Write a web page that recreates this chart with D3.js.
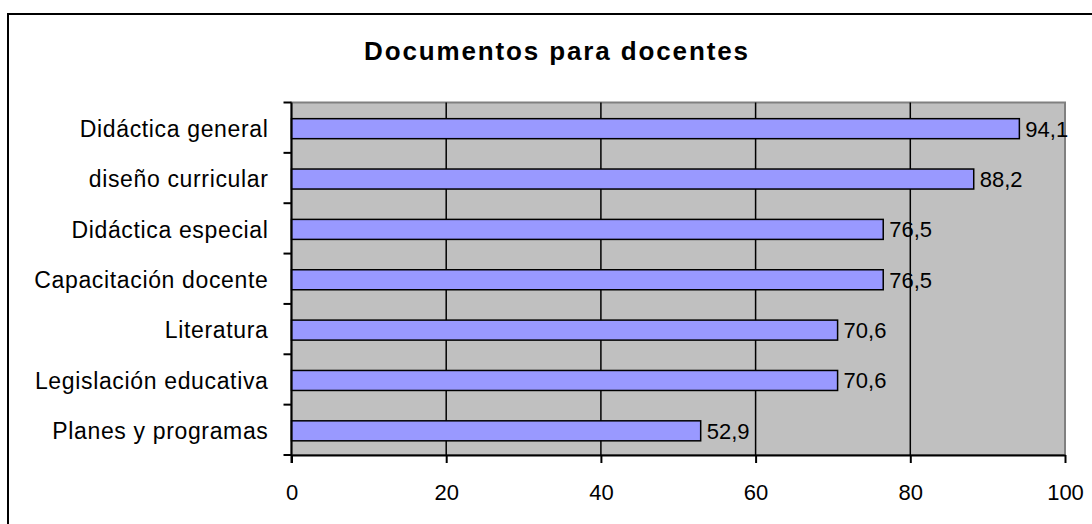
<!DOCTYPE html>
<html>
<head>
<meta charset="utf-8">
<script src="https://cdn.jsdelivr.net/npm/d3@7"></script>
<style>
  html, body { margin: 0; padding: 0; background: #fff; }
  svg { display: block; }
  text { font-family: "Liberation Sans", Arial, sans-serif; fill: #000; }
</style>
</head>
<body>
<svg id="chart" width="1092" height="524"></svg>
<script>
// Survey results: share of documents for teachers (%)
const categories = [
  "Didáctica general",
  "diseño curricular",
  "Didáctica especial",
  "Capacitación docente",
  "Literatura",
  "Legislación educativa",
  "Planes y programas"
];
const values = [94.1, 88.2, 76.5, 76.5, 70.6, 70.6, 52.9];
const xTicks = [0, 20, 40, 60, 80, 100];
const titleText = "Documentos para docentes";

const svg = d3.select("#chart");

// outer frame
svg.append("rect")
  .attr("x", 8).attr("y", 14)
  .attr("width", 1110).attr("height", 600)
  .attr("fill", "none").attr("stroke", "#000").attr("stroke-width", 2);

const plot = { left: 291.5, right: 1065, top: 102.5, bottom: 455 };

const x = d3.scaleLinear().domain([0, 100]).range([plot.left, plot.right]);
const y = d3.scaleBand().domain(categories).range([plot.top, plot.bottom]).paddingInner(0).paddingOuter(0);
const barH = 20;

// plot background
svg.append("rect")
  .attr("x", plot.left).attr("y", plot.top)
  .attr("width", plot.right - plot.left).attr("height", plot.bottom - plot.top)
  .attr("fill", "#C0C0C0").attr("stroke", "#808080").attr("stroke-width", 2);

// vertical gridlines
svg.append("g").selectAll("line")
  .data(xTicks.filter(t => t > 0 && t < 100))
  .join("line")
  .attr("x1", d => x(d)).attr("x2", d => x(d))
  .attr("y1", plot.top).attr("y2", plot.bottom)
  .attr("stroke", "#000").attr("stroke-width", 1.5);

// bars
svg.append("g").selectAll("rect")
  .data(categories)
  .join("rect")
  .attr("x", x(0))
  .attr("y", (d) => y(d) + (y.bandwidth() - barH) / 2 + 1)
  .attr("width", (d, i) => x(values[i]) - x(0))
  .attr("height", barH)
  .attr("fill", "#9999FF")
  .attr("stroke", "#000").attr("stroke-width", 1.5);

// x axis
const xAxis = svg.append("g")
  .attr("transform", `translate(0,${plot.bottom})`)
  .call(d3.axisBottom(x).tickValues(xTicks).tickSize(8).tickPadding(14).tickSizeOuter(0));
xAxis.select(".domain").attr("stroke", "#000").attr("stroke-width", 2);
xAxis.selectAll(".tick line").attr("stroke", "#000").attr("stroke-width", 2);
xAxis.selectAll(".tick text")
  .attr("font-size", 22)
  .attr("font-family", "Liberation Sans, Arial, sans-serif")
  .attr("dy", null).attr("y", 45);

// y axis: line plus ticks on band boundaries
const yAxis = svg.append("g");
yAxis.append("line")
  .attr("x1", plot.left).attr("x2", plot.left)
  .attr("y1", plot.top).attr("y2", plot.bottom + 8)
  .attr("stroke", "#000").attr("stroke-width", 2);
const bounds = categories.map(c => y(c)).concat([plot.bottom]);
yAxis.selectAll("line.tick")
  .data(bounds)
  .join("line")
  .attr("class", "tick")
  .attr("x1", plot.left - 8).attr("x2", plot.left)
  .attr("y1", d => d).attr("y2", d => d)
  .attr("stroke", "#000").attr("stroke-width", 2);

// category labels
svg.append("g").selectAll("text")
  .data(categories)
  .join("text")
  .attr("x", 268.5)
  .attr("y", d => y(d) + y.bandwidth() / 2 + 1)
  .attr("dy", "0.36em")
  .attr("text-anchor", "end")
  .attr("font-size", 23)
  .attr("letter-spacing", 0.65)
  .text(d => d);

// value labels
svg.append("g").selectAll("text")
  .data(categories)
  .join("text")
  .attr("x", (d, i) => x(values[i]) + 6)
  .attr("y", d => y(d) + y.bandwidth() / 2 + 1)
  .attr("dy", "0.36em")
  .attr("font-size", 22)
  .text((d, i) => d3.format(".1f")(values[i]).replace(".", ","));

// title
svg.append("text")
  .attr("x", 364).attr("y", 59.5)
  .attr("font-size", 26)
  .attr("font-weight", "bold")
  .attr("textLength", 384)
  .attr("lengthAdjust", "spacing")
  .text(titleText);
</script>
</body>
</html>
